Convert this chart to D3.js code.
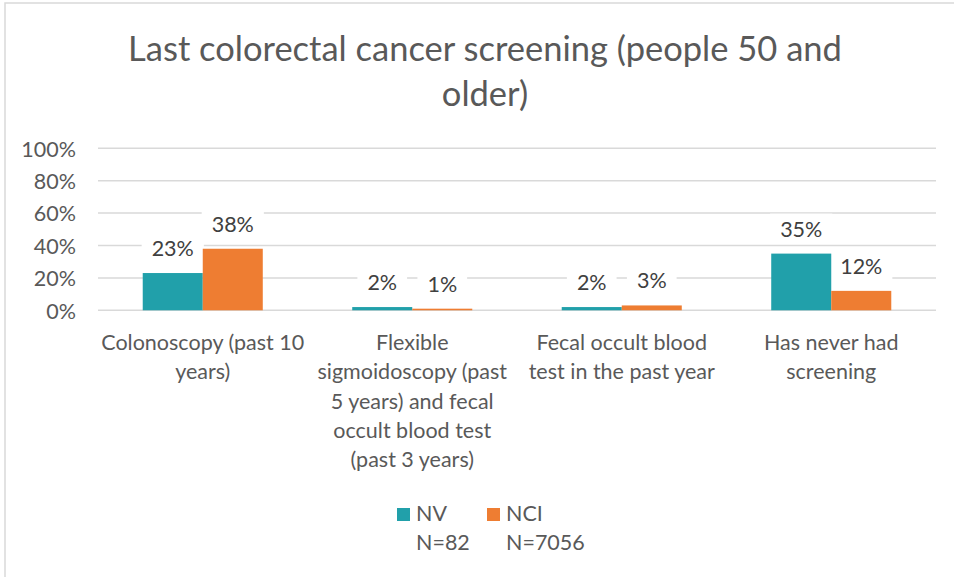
<!DOCTYPE html>
<html>
<head>
<meta charset="utf-8">
<script src="https://cdn.jsdelivr.net/npm/d3@7"></script>
<style>
  html, body { margin: 0; padding: 0; background: #fff; }
  svg { display: block; font-family: Lato, "Open Sans", sans-serif; }
</style>
</head>
<body>
<svg id="chart" width="954" height="577"></svg>
<script>
// Screening categories (wrapped as drawn on the axis)
const categories = [
  ["Colonoscopy (past 10", "years)"],
  ["Flexible", "sigmoidoscopy (past", "5 years) and fecal", "occult blood test", "(past 3 years)"],
  ["Fecal occult blood", "test in the past year"],
  ["Has never had", "screening"]
];
const seriesNames = ["NV", "NCI"];
const seriesN = ["N=82", "N=7056"];
const nvValues = [0.23, 0.02, 0.02, 0.35];
const nciValues = [0.38, 0.01, 0.03, 0.12];
const yTicks = [0, 0.2, 0.4, 0.6, 0.8, 1.0];
const titleLines = ["Last colorectal cancer screening (people 50 and", "older)"];

const colors = ["#21a0aa", "#ee7d32"];
const textColor = "#595959";
const gridColor = "#d9d9d9";
const fontSize = "21.5px";

const svg = d3.select("#chart");

// Outer chart frame
svg.append("rect")
  .attr("x", 5).attr("y", 3).attr("width", 960).attr("height", 600)
  .attr("fill", "#fff").attr("stroke", "#d9d9d9").attr("stroke-width", 1.5);

const plot = { left: 98, right: 936, top: 148.3, bottom: 310.3 };

const x0 = d3.scaleBand()
  .domain(d3.range(categories.length))
  .range([plot.left, plot.right])
  .paddingInner(0).paddingOuter(0);

const groupWidth = x0.bandwidth() * 0.573;
const x1 = d3.scaleBand()
  .domain(d3.range(seriesNames.length))
  .range([0, groupWidth]);

const y = d3.scaleLinear().domain([0, 1]).range([plot.bottom, plot.top]);

// Title
svg.append("text")
  .attr("x", 485).attr("y", 61)
  .attr("text-anchor", "middle")
  .attr("fill", textColor)
  .style("font-size", "34.5px")
  .selectAll("tspan").data(titleLines).join("tspan")
  .attr("x", 485).attr("dy", (d, i) => i === 0 ? 0 : 45)
  .text(d => d);

// Gridlines
svg.append("g").selectAll("line").data(yTicks).join("line")
  .attr("x1", plot.left).attr("x2", plot.right)
  .attr("y1", d => y(d)).attr("y2", d => y(d))
  .attr("stroke", gridColor).attr("stroke-width", 1.5);

// Y axis tick labels
const yAxis = d3.axisLeft(y).tickValues(yTicks).tickFormat(d3.format(".0%")).tickSize(0).tickPadding(0);
const yg = svg.append("g").attr("transform", `translate(76,0)`).call(yAxis);
yg.select(".domain").remove();
yg.selectAll("text")
  .attr("fill", textColor)
  .style("font-size", fontSize)
  .style("font-family", "Lato, 'Open Sans', sans-serif")
  .attr("dy", "0.36em");

// Layers: label backings sit under the bars, label text on top
const rows = categories.map((c, i) => [nvValues[i], nciValues[i]]);
const groupX = i => x0(i) + (x0.bandwidth() - groupWidth) / 2;
const bgLayer = svg.append("g");
const barLayer = svg.append("g");
const labelLayer = svg.append("g");

// Bars
const groups = barLayer.selectAll("g").data(rows).join("g")
  .attr("transform", (d, i) => `translate(${groupX(i)},0)`);

groups.selectAll("rect").data(d => d).join("rect")
  .attr("x", (d, j) => x1(j))
  .attr("width", x1.bandwidth())
  .attr("y", d => y(d))
  .attr("height", d => plot.bottom - y(d))
  .attr("fill", (d, j) => colors[j]);

// Data labels with white backing
const fmt = d3.format(".0%");
rows.forEach((d, i) => {
  d.forEach((v, j) => {
    const cx = groupX(i) + x1(j) + x1.bandwidth() / 2;
    const by = y(v) - 17;
    const t = labelLayer.append("text")
      .attr("x", cx).attr("y", by)
      .attr("text-anchor", "middle")
      .attr("fill", "#404040")
      .style("font-size", fontSize)
      .text(fmt(v));
    const bb = t.node().getBBox();
    bgLayer.append("rect")
      .attr("x", bb.x - 10).attr("y", bb.y - 2)
      .attr("width", bb.width + 20).attr("height", bb.height + 4)
      .attr("fill", "#fff");
  });
});

// Category labels
svg.append("g").selectAll("text").data(categories).join("text")
  .attr("text-anchor", "middle")
  .attr("fill", textColor)
  .style("font-size", fontSize)
  .each(function (lines, i) {
    const cx = x0(i) + x0.bandwidth() / 2;
    d3.select(this).selectAll("tspan").data(lines).join("tspan")
      .attr("x", cx)
      .attr("y", (d, k) => 350 + k * 29.3)
      .text(d => d);
  });

// Legend
const legendX = [397, 487];
const legend = svg.append("g").selectAll("g").data(seriesNames).join("g")
  .attr("transform", (d, i) => `translate(${legendX[i]},0)`);
legend.append("rect")
  .attr("x", 0).attr("y", 508).attr("width", 13).attr("height", 13)
  .attr("fill", (d, i) => colors[i]);
legend.append("text")
  .attr("fill", textColor).style("font-size", fontSize)
  .selectAll("tspan").data((d, i) => [d, seriesN[i]]).join("tspan")
  .attr("x", 19)
  .attr("y", (d, k) => 521 + k * 29)
  .text(d => d);
</script>
</body>
</html>
